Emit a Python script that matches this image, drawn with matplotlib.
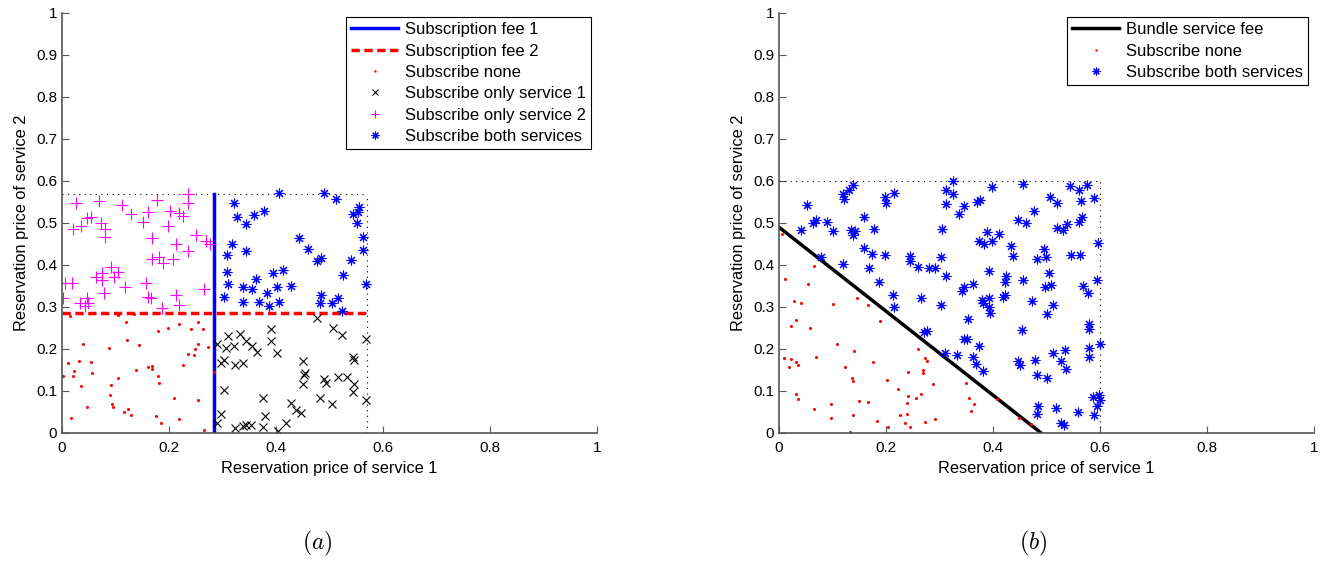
import numpy as np
import matplotlib.pyplot as plt

plt.rcParams['font.family'] = ['Liberation Sans', 'DejaVu Sans']
plt.rcParams['mathtext.fontset'] = 'cm'

# Fees and region limits
fee1 = 0.285
fee2 = 0.285
box_a = 0.57
bundle_fee = 0.49
box_b = 0.6

# (a) separate subscriptions
none_x = [0.015, 0.104, 0.134, 0.119, 0.255, 0.263, 0.179, 0.199, 0.219, 0.242,
          0.039, 0.088, 0.121, 0.143, 0.254, 0.249, 0.272, 0.011, 0.032, 0.054,
          0.235, 0.247, 0.227, 0.022, 0.057, 0.021, 0.138, 0.160, 0.168, 0.169,
          0.179, 0.105, 0.001, 0.036, 0.092, 0.182, 0.090, 0.209, 0.254, 0.046,
          0.094, 0.095, 0.115, 0.124, 0.129, 0.017, 0.175, 0.185, 0.219, 0.265,
          0.284]
none_y = [0.279, 0.281, 0.283, 0.264, 0.265, 0.248, 0.243, 0.250, 0.259, 0.247,
          0.211, 0.202, 0.221, 0.210, 0.211, 0.199, 0.205, 0.167, 0.171, 0.168,
          0.188, 0.186, 0.163, 0.148, 0.143, 0.135, 0.149, 0.157, 0.159, 0.152,
          0.135, 0.130, 0.136, 0.112, 0.115, 0.118, 0.090, 0.084, 0.079, 0.061,
          0.070, 0.061, 0.051, 0.056, 0.044, 0.035, 0.040, 0.025, 0.033, 0.006,
          0.145]

only1_x = [0.476, 0.507, 0.523, 0.311, 0.333, 0.390, 0.344, 0.356, 0.365, 0.390,
           0.402, 0.290, 0.307, 0.321, 0.568, 0.303, 0.298, 0.323, 0.339, 0.451,
           0.543, 0.546, 0.454, 0.452, 0.450, 0.490, 0.493, 0.515, 0.532, 0.546,
           0.543, 0.303, 0.375, 0.482, 0.504, 0.568, 0.428, 0.437, 0.446, 0.297,
           0.379, 0.290, 0.323, 0.338, 0.344, 0.353, 0.375, 0.404, 0.419]
only1_y = [0.273, 0.251, 0.233, 0.231, 0.236, 0.247, 0.220, 0.207, 0.194, 0.218,
           0.191, 0.213, 0.202, 0.207, 0.223, 0.174, 0.167, 0.163, 0.166, 0.171,
           0.182, 0.175, 0.144, 0.138, 0.117, 0.128, 0.120, 0.134, 0.134, 0.117,
           0.098, 0.102, 0.083, 0.083, 0.069, 0.079, 0.072, 0.055, 0.047, 0.045,
           0.040, 0.025, 0.013, 0.017, 0.019, 0.019, 0.014, 0.005, 0.025]

only2_x = [0.027, 0.070, 0.113, 0.177, 0.236, 0.236, 0.129, 0.160, 0.202, 0.219,
           0.227, 0.046, 0.054, 0.073, 0.151, 0.021, 0.036, 0.080, 0.080, 0.198,
           0.168, 0.250, 0.214, 0.270, 0.277, 0.236, 0.168, 0.181, 0.189, 0.208,
           0.092, 0.105, 0.063, 0.075, 0.075, 0.098, 0.006, 0.019, 0.117, 0.157,
           0.266, 0.001, 0.079, 0.160, 0.166, 0.214, 0.034, 0.046, 0.049, 0.043,
           0.186, 0.219]
only2_y = [0.548, 0.552, 0.543, 0.555, 0.568, 0.547, 0.521, 0.527, 0.529, 0.523,
           0.517, 0.513, 0.515, 0.501, 0.503, 0.485, 0.493, 0.485, 0.467, 0.493,
           0.464, 0.471, 0.450, 0.456, 0.449, 0.433, 0.414, 0.420, 0.404, 0.414,
           0.395, 0.384, 0.372, 0.382, 0.364, 0.372, 0.356, 0.358, 0.347, 0.358,
           0.344, 0.321, 0.333, 0.325, 0.321, 0.329, 0.310, 0.321, 0.310, 0.302,
           0.298, 0.305]

both_x = [0.406, 0.490, 0.513, 0.321, 0.556, 0.554, 0.543, 0.328, 0.359, 0.378,
          0.344, 0.552, 0.443, 0.563, 0.318, 0.308, 0.344, 0.459, 0.562, 0.476,
          0.485, 0.541, 0.309, 0.395, 0.414, 0.526, 0.311, 0.363, 0.338, 0.356,
          0.383, 0.402, 0.428, 0.568, 0.302, 0.485, 0.338, 0.369, 0.387, 0.406,
          0.482, 0.504, 0.515, 0.523]
both_y = [0.572, 0.572, 0.556, 0.547, 0.537, 0.527, 0.521, 0.515, 0.519, 0.529,
          0.498, 0.499, 0.464, 0.466, 0.450, 0.424, 0.434, 0.437, 0.436, 0.410,
          0.417, 0.413, 0.384, 0.380, 0.387, 0.376, 0.355, 0.366, 0.348, 0.342,
          0.334, 0.347, 0.350, 0.355, 0.323, 0.329, 0.311, 0.313, 0.303, 0.313,
          0.310, 0.310, 0.321, 0.291]

# (b) bundle
b_none_x = [0.005, 0.011, 0.066, 0.055, 0.146, 0.028, 0.042, 0.101, 0.167, 0.032,
            0.022, 0.058, 0.189, 0.109, 0.069, 0.009, 0.022, 0.019, 0.032, 0.036,
            0.141, 0.123, 0.175, 0.136, 0.138, 0.259, 0.272, 0.277, 0.242, 0.269,
            0.269, 0.201, 0.287, 0.223, 0.032, 0.036, 0.065, 0.097, 0.098, 0.150,
            0.167, 0.139, 0.241, 0.257, 0.265, 0.239, 0.240, 0.227, 0.273, 0.292,
            0.184, 0.236, 0.244, 0.204, 0.133, 0.350, 0.356, 0.364, 0.358, 0.408,
            0.449, 0.471]
b_none_y = [0.475, 0.367, 0.398, 0.354, 0.321, 0.315, 0.309, 0.306, 0.305, 0.269,
            0.255, 0.249, 0.267, 0.211, 0.182, 0.178, 0.176, 0.156, 0.168, 0.162,
            0.195, 0.158, 0.170, 0.130, 0.124, 0.199, 0.179, 0.172, 0.145, 0.150,
            0.144, 0.126, 0.117, 0.105, 0.094, 0.080, 0.056, 0.069, 0.036, 0.076,
            0.075, 0.043, 0.089, 0.084, 0.092, 0.072, 0.045, 0.043, 0.026, 0.034,
            0.029, 0.023, 0.014, 0.014, 0.002, 0.120, 0.083, 0.068, 0.052, 0.080,
            0.035, 0.021]

b_both_x = [0.139, 0.130, 0.119, 0.121, 0.198, 0.200, 0.215, 0.312, 0.313, 0.053,
            0.064, 0.069, 0.090, 0.041, 0.101, 0.135, 0.142, 0.139, 0.158, 0.178,
            0.305, 0.158, 0.174, 0.198, 0.078, 0.120, 0.169, 0.245, 0.244, 0.259,
            0.281, 0.292, 0.303, 0.313, 0.187, 0.213, 0.215, 0.265, 0.303, 0.271,
            0.277, 0.310,
            0.325, 0.326, 0.345, 0.337, 0.371, 0.376, 0.398, 0.457, 0.477, 0.446,
            0.461, 0.507, 0.519, 0.543, 0.560, 0.576, 0.564, 0.589, 0.566, 0.561,
            0.520, 0.530, 0.538, 0.597, 0.388, 0.412, 0.373, 0.383, 0.399, 0.434,
            0.438, 0.495, 0.482, 0.499, 0.545, 0.563, 0.393, 0.424, 0.422, 0.456,
            0.505, 0.595, 0.345, 0.342, 0.362, 0.497, 0.508, 0.568, 0.578, 0.379,
            0.382, 0.393, 0.419, 0.422, 0.472, 0.512,
            0.393, 0.394, 0.500, 0.353, 0.580, 0.580, 0.454, 0.346, 0.351, 0.374,
            0.600, 0.580, 0.580, 0.535, 0.513, 0.527, 0.536, 0.332, 0.362, 0.368,
            0.381, 0.447, 0.450, 0.479, 0.483, 0.500, 0.485, 0.483, 0.518, 0.528,
            0.533, 0.558, 0.586, 0.599, 0.600, 0.595, 0.588]
b_both_y = [0.590, 0.579, 0.569, 0.556, 0.561, 0.548, 0.572, 0.579, 0.545, 0.544,
            0.499, 0.507, 0.502, 0.483, 0.482, 0.483, 0.482, 0.471, 0.514, 0.485,
            0.485, 0.441, 0.426, 0.424, 0.420, 0.402, 0.394, 0.421, 0.410, 0.396,
            0.394, 0.394, 0.418, 0.374, 0.360, 0.329, 0.301, 0.321, 0.305, 0.241,
            0.244, 0.190,
            0.600, 0.569, 0.540, 0.521, 0.549, 0.555, 0.585, 0.592, 0.529, 0.506,
            0.499, 0.561, 0.547, 0.589, 0.579, 0.590, 0.553, 0.559, 0.515, 0.502,
            0.487, 0.483, 0.497, 0.453, 0.479, 0.475, 0.458, 0.450, 0.458, 0.445,
            0.421, 0.438, 0.414, 0.418, 0.424, 0.424, 0.386, 0.374, 0.360, 0.364,
            0.382, 0.364, 0.347, 0.339, 0.355, 0.347, 0.352, 0.350, 0.334, 0.317,
            0.310, 0.321, 0.325, 0.329, 0.314, 0.305,
            0.299, 0.285, 0.283, 0.271, 0.260, 0.247, 0.245, 0.223, 0.223, 0.207,
            0.211, 0.202, 0.180, 0.198, 0.190, 0.172, 0.152, 0.186, 0.180, 0.164,
            0.148, 0.172, 0.162, 0.174, 0.138, 0.130, 0.064, 0.045, 0.059, 0.023,
            0.019, 0.051, 0.085, 0.090, 0.079, 0.064, 0.043]

ticks_x = [0, 0.2, 0.4, 0.6, 0.8, 1]
ticks_y = [0, 0.1, 0.2, 0.3, 0.4, 0.5, 0.6, 0.7, 0.8, 0.9, 1]

asterisk = (8, 2, 0)

fig = plt.figure(figsize=(13.28, 5.62), dpi=100)
ax1 = fig.add_axes([62 / 1328, 129 / 562, 535 / 1328, 420 / 562])
ax2 = fig.add_axes([779 / 1328, 129 / 562, 535 / 1328, 420 / 562])


def style_axes(ax):
    ax.set_xlim(0, 1)
    ax.set_ylim(0, 1)
    ax.set_xticks(ticks_x)
    ax.set_xticklabels([f'{t:g}' for t in ticks_x])
    ax.set_yticks(ticks_y)
    ax.set_yticklabels([f'{t:g}' for t in ticks_y])
    ax.spines['top'].set_visible(False)
    ax.spines['right'].set_visible(False)
    for s in ['left', 'bottom']:
        ax.spines[s].set_color('#555555')
        ax.spines[s].set_linewidth(1.2)
    ax.tick_params(direction='in', length=5, labelsize=11, color='#555555')
    ax.tick_params(axis='x', pad=6)
    ax.set_xlabel('Reservation price of service 1', fontsize=11.8, labelpad=4)
    ax.set_ylabel('Reservation price of service 2', fontsize=11.8, labelpad=5)


def add_legend(ax):
    leg = ax.legend(loc='upper right', bbox_to_anchor=(0.988, 0.99), fontsize=12,
                    fancybox=False, framealpha=1, edgecolor='black',
                    handlelength=2.8, borderpad=0.3, labelspacing=0.38,
                    handletextpad=0.4, borderaxespad=0, markerscale=0.8)
    leg.get_frame().set_linewidth(0.8)


# (a)
ax1.plot([0, box_a], [box_a, box_a], color='k', ls=(0, (1, 4)), lw=0.8)
ax1.plot([box_a, box_a], [0, box_a], color='k', ls=(0, (1, 4)), lw=0.8)
ax1.plot([fee1, fee1], [0, box_a], color='#0000ff', lw=2.5, label='Subscription fee 1')
ax1.plot([0, box_a], [fee2, fee2], color='#ff0000', lw=2.5, ls=(0, (2.4, 1.3)),
         label='Subscription fee 2')
ax1.plot(none_x, none_y, 'o', color='red', ms=2.2, mec='none', label='Subscribe none')
ax1.plot(only1_x, only1_y, 'x', color='black', ms=6, mew=0.8,
         label='Subscribe only service 1')
ax1.plot(only2_x, only2_y, '+', color='#ff00ff', ms=8, mew=0.8,
         label='Subscribe only service 2')
ax1.plot(both_x, both_y, ls='none', marker=asterisk, color='#0000ff', ms=7, mew=0.8,
         label='Subscribe both services')
style_axes(ax1)
add_legend(ax1)

# (b)
ax2.plot([0, box_b], [box_b, box_b], color='k', ls=(0, (1, 4)), lw=0.8)
ax2.plot([box_b, box_b], [0, box_b], color='k', ls=(0, (1, 4)), lw=0.8)
ax2.plot([0, bundle_fee], [bundle_fee, 0], color='black', lw=2.5, label='Bundle service fee')
ax2.plot(b_none_x, b_none_y, 'o', color='red', ms=2.2, mec='none', label='Subscribe none')
ax2.plot(b_both_x, b_both_y, ls='none', marker=asterisk, color='#0000ff', ms=7, mew=0.8,
         label='Subscribe both services')
style_axes(ax2)
add_legend(ax2)

fig.text(317 / 1328, 1 - 543 / 562, '$(a)$', fontsize=17, ha='center', va='center')
fig.text(1033 / 1328, 1 - 543 / 562, '$(b)$', fontsize=17, ha='center', va='center')

fig.savefig('out.png', dpi=100)
